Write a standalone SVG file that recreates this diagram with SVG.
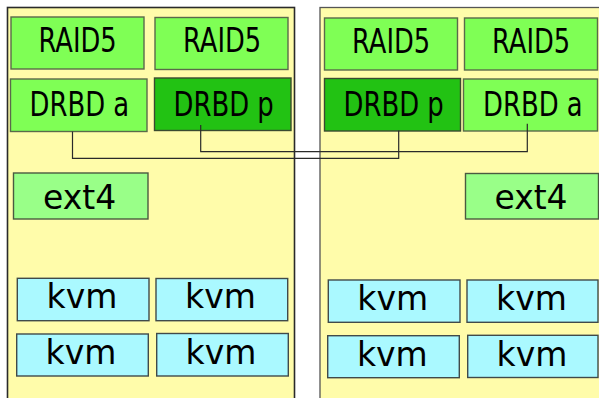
<svg xmlns="http://www.w3.org/2000/svg" width="599" height="398" viewBox="0 0 599 398">
<style>
.panel{fill:#fffcaa;stroke:#2a2a2a;stroke-width:1.6}
.raid{fill:#7fff55;stroke:#5a6a4a;stroke-width:1.4}
.drbdp{fill:#22c213;stroke:#3a4a30;stroke-width:1.4}
.ext{fill:#99ff88;stroke:#4a5a40;stroke-width:1.4}
.kvm{fill:#aaf9ff;stroke:#404a4a;stroke-width:1.4}
.t{font-family:"DejaVu Sans",sans-serif;font-size:33px;fill:#000}
.c{text-anchor:middle}
.conn{fill:none;stroke:#2a2a2a;stroke-width:1.2}
</style>
<g id="panel-left"><rect class="panel" x="7.5" y="7.5" width="287" height="400"/></g>
<g id="panel-right"><rect class="panel" x="320" y="7.5" width="300" height="400" style="stroke:#555;stroke-width:1.3"/></g>

<g id="raid-l1"><rect class="raid" x="11" y="17" width="133" height="52"/><text class="t" transform="translate(38.5 51.7) scale(0.78 1)">RAID5</text></g>
<g id="raid-l2"><rect class="raid" x="155" y="17.5" width="133" height="52"/><text class="t" transform="translate(183 51.7) scale(0.78 1)">RAID5</text></g>
<g id="raid-r1"><rect class="raid" x="324.5" y="18" width="133" height="52"/><text class="t" transform="translate(352 52.5) scale(0.78 1)">RAID5</text></g>
<g id="raid-r2"><rect class="raid" x="464.5" y="18" width="133" height="52"/><text class="t" transform="translate(492 52.5) scale(0.78 1)">RAID5</text></g>

<g id="drbd-a-left"><rect class="raid" x="10.5" y="79" width="136.5" height="52.5"/><text class="t" transform="translate(29.5 115.7) scale(0.785 1)">DRBD a</text></g>
<g id="drbd-p-left"><rect class="drbdp" x="154.5" y="78" width="136.5" height="52.5"/><text class="t" transform="translate(173.5 115.7) scale(0.785 1)">DRBD p</text></g>
<g id="drbd-p-right"><rect class="drbdp" x="324.5" y="78.5" width="136" height="52.5"/><text class="t" transform="translate(343.5 116) scale(0.785 1)">DRBD p</text></g>
<g id="drbd-a-right"><rect class="raid" x="463.5" y="79" width="134" height="52"/><text class="t" transform="translate(483 116) scale(0.785 1)">DRBD a</text></g>

<g id="connectors">
<path class="conn" d="M72.5 131.5V158.3H398.7V130.5"/>
<path class="conn" d="M200.7 125V151.7H527.3V123.7"/>
</g>

<g id="ext4-left"><rect class="ext" x="13.5" y="173" width="134.5" height="46"/><text class="t c" x="79.7" y="209">ext4</text></g>
<g id="ext4-right"><rect class="ext" x="465.5" y="173.5" width="133" height="45.5"/><text class="t c" x="531" y="208.5">ext4</text></g>

<g id="kvm-l1"><rect class="kvm" x="17.3" y="278.3" width="131.7" height="42.4"/><text class="t c" x="82" y="307.7">kvm</text></g>
<g id="kvm-l2"><rect class="kvm" x="156" y="278.5" width="131.7" height="42.2"/><text class="t c" x="220.5" y="308">kvm</text></g>
<g id="kvm-l3"><rect class="kvm" x="16.7" y="334" width="131.6" height="42"/><text class="t c" x="81" y="364">kvm</text></g>
<g id="kvm-l4"><rect class="kvm" x="156.7" y="333.5" width="131.6" height="42.5"/><text class="t c" x="221" y="364">kvm</text></g>
<g id="kvm-r1"><rect class="kvm" x="328.3" y="280" width="131.7" height="42.3"/><text class="t c" x="392.7" y="310">kvm</text></g>
<g id="kvm-r2"><rect class="kvm" x="467" y="280" width="131" height="42.3"/><text class="t c" x="531.5" y="310">kvm</text></g>
<g id="kvm-r3"><rect class="kvm" x="327.7" y="335.7" width="131.6" height="42"/><text class="t c" x="392.3" y="365.7">kvm</text></g>
<g id="kvm-r4"><rect class="kvm" x="467.7" y="335.3" width="130.3" height="42.2"/><text class="t c" x="532" y="365.7">kvm</text></g>
</svg>
